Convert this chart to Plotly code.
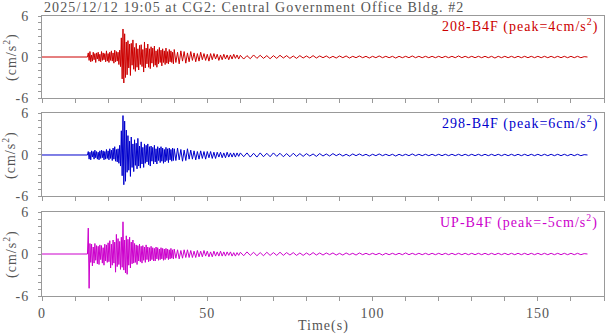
import numpy as np
import plotly.graph_objects as go

TITLE = "2025/12/12 19:05 at CG2: Central Government Office Bldg. #2"
CHANNELS = ["208-B4F", "298-B4F", "UP-B4F"]
PEAKS = [4, 6, -5]
COLORS = ["#cc0000", "#0000cc", "#cc00cc"]
X_TICKS = [0, 50, 100, 150]
Y_TICKS = [-6, 0, 6]

# segment A: every 0.25 s from 14 s (cm/s^2)
red_a = [0.6, -0.5, 0.8, -0.7, 0.3, -0.6, 0.7, -0.4, 0.5, -0.8, 0.6, -0.3,
         0.7, -0.6, 0.4, -0.7, 0.8, -0.5, 0.6, -0.4, 0.5, -0.7, 0.9, -0.6,
         0.5, -0.8, 0.7, -0.5, 0.9, -0.6, 0.6, -0.9, 1.0, -0.7, 0.8, -0.6,
         0.7, -1.1, 1.0, -1.4,
         2.8, -3.2, 4.1, -3.8, 3.4, -3.0, 2.2, -2.6,
         2.4, -1.6, 1.9, -2.7, 2.0, -1.2, 2.5, -1.8,
         1.4, -2.1, 2.0, -1.5, 1.2, -1.9, 1.7, -1.1,
         1.8, -1.4, 1.1, -2.2, 2.2, -1.6, 1.3, -1.0,
         1.9, -1.5, 1.2, -1.7, 1.5, -0.9, 1.3, -1.4,
         1.6, -1.2, 0.9, -1.5, 1.1, -1.0, 1.4, -0.8,
         1.0, -1.3, 1.2, -0.8, 0.9, -1.1, 1.3, -0.9,
         0.8, -1.0, 1.1, -0.7, 0.9, -0.8, 0.7, -1.0]
blue_a = [0.5, -0.6, 0.4, -0.7, 0.6, -0.3, 0.5, -0.6, 0.7, -0.4, 0.5, -0.6,
          0.4, -0.7, 0.6, -0.5, 0.7, -0.4, 0.6, -0.7, 0.5, -0.6, 0.8, -0.5,
          0.6, -0.7, 0.9, -0.5, 0.7, -0.8, 1.0, -0.6, 1.2, -0.9, 0.8, -1.0,
          0.9, -1.2, 1.4, -1.6,
          3.5, -3.0, 5.7, -4.3, 4.9, -3.8, 3.6, -2.5,
          2.8, -2.2, 2.0, -3.1, 2.6, -1.8, 1.6, -2.4,
          2.2, -1.5, 1.7, -2.0, 2.4, -1.6, 1.3, -1.9,
          1.9, -1.3, 1.1, -1.8, 1.6, -1.2, 1.4, -1.0,
          1.6, -1.4, 1.2, -1.6, 1.3, -0.9, 1.1, -1.3,
          1.4, -1.0, 0.9, -1.3, 1.2, -0.8, 1.0, -1.1,
          1.2, -0.9, 1.0, -1.2, 0.8, -1.0, 1.1, -0.8,
          0.9, -1.1, 1.0, -0.7, 0.8, -0.9, 1.0, -0.8]
mag_a = [3.7, -4.9, 1.5, -1.2, 1.4, -1.7, 1.0, -1.3, 1.5, -0.9, 1.2, -1.4,
         1.1, -1.5, 1.3, -0.8, 1.2, -1.3, 0.9, -1.6, 1.4, -1.0, 1.3, -1.2,
         1.6, -1.1, 1.9, -2.0, 1.4, -1.6, 2.0, -1.3, 1.7, -2.6, 2.8, -1.8,
         2.2, -1.5, 1.8, -2.2,
         2.4, -1.9, 4.6, -2.3, 2.0, -2.7, 2.6, -2.9,
         2.1, -1.6, 2.4, -2.0, 1.7, -1.4, 2.0, -1.3,
         1.5, -1.2, 1.3, -1.5, 1.2, -1.0, 1.4, -1.1,
         1.1, -1.3, 1.2, -0.9, 1.0, -1.2, 1.3, -0.8,
         1.0, -1.1, 0.9, -1.0, 1.1, -0.8, 0.9, -1.0,
         0.8, -1.0, 1.0, -0.7, 0.9, -0.9, 0.7, -0.8,
         0.9, -0.7, 0.8, -0.9, 0.7, -0.8, 0.8, -0.6,
         0.7, -0.8, 0.6, -0.7, 0.8, -0.6, 0.6, -0.7]

# segment B: every 0.5 s from 40 s
red_b = [1.1, -0.8, 0.7, -1.0, 0.9, -0.6, 0.8, -0.9, 0.6, -0.7,
         0.8, -0.5, 0.6, -0.7, 0.5, -0.6, 0.7, -0.4, 0.5, -0.5,
         0.4, -0.6, 0.5, -0.4, 0.5, -0.3, 0.4, -0.5, 0.3, -0.4,
         0.4, -0.3, 0.3, -0.4, 0.3, -0.3, 0.4, -0.2, 0.3, -0.3]
blue_b = [0.9, -0.8, 1.0, -0.7, 0.8, -0.9, 0.7, -0.8, 0.9, -0.6,
          0.7, -0.6, 0.6, -0.7, 0.5, -0.6, 0.6, -0.5, 0.5, -0.6,
          0.5, -0.4, 0.5, -0.5, 0.4, -0.5, 0.4, -0.3, 0.4, -0.4,
          0.3, -0.4, 0.4, -0.3, 0.3, -0.3, 0.3, -0.3, 0.3, -0.2]
mag_b = [0.7, -0.6, 0.6, -0.7, 0.5, -0.6, 0.6, -0.5, 0.6, -0.5,
         0.5, -0.5, 0.4, -0.5, 0.5, -0.4, 0.4, -0.4, 0.5, -0.3,
         0.4, -0.4, 0.3, -0.4, 0.4, -0.3, 0.3, -0.3, 0.4, -0.3,
         0.3, -0.3, 0.3, -0.2, 0.3, -0.3, 0.2, -0.3, 0.2, -0.2]

# segment C: every 1 s from 60 s
red_c = [0.25, -0.3, 0.2, -0.25, 0.3, -0.2, 0.25, -0.2, 0.2, -0.25, 0.2, -0.2, 0.25, -0.15, 0.2, -0.2, 0.15, -0.2, 0.2, -0.15,
         0.15, -0.15, 0.2, -0.15, 0.15, -0.1, 0.15, -0.15, 0.1, -0.15, 0.15, -0.1, 0.15, -0.15, 0.1, -0.1, 0.15, -0.1, 0.1, -0.15,
         0.1, -0.1, 0.15, -0.1, 0.1, -0.1, 0.1, -0.15, 0.1, -0.1, 0.1, -0.1, 0.15, -0.1, 0.1, -0.1, 0.1, -0.1, 0.1, -0.1,
         0.1, -0.1, 0.1, -0.1, 0.1, -0.1, 0.15, -0.1, 0.1, -0.1, 0.1, -0.1, 0.1, -0.1, 0.1, -0.1, 0.1, -0.15, 0.1, -0.1,
         0.1, -0.1, 0.1, -0.1, 0.1, -0.1, 0.1, -0.1, 0.1, -0.1, 0.1, -0.1, 0.1, -0.1, 0.1, -0.1, 0.1, -0.1, 0.1, -0.1,
         0.1, -0.1, 0.1, -0.1, 0.05, 0.0]
blue_c = [0.3, -0.25, 0.3, -0.3, 0.25, -0.3, 0.3, -0.25, 0.25, -0.25, 0.3, -0.2, 0.25, -0.25, 0.2, -0.25, 0.25, -0.2, 0.2, -0.2,
          0.2, -0.15, 0.15, -0.2, 0.2, -0.15, 0.15, -0.15, 0.2, -0.1, 0.15, -0.15, 0.1, -0.15, 0.15, -0.1, 0.15, -0.1, 0.1, -0.15,
          0.1, -0.1, 0.15, -0.1, 0.1, -0.1, 0.1, -0.15, 0.1, -0.1, 0.1, -0.1, 0.15, -0.1, 0.1, -0.1, 0.1, -0.1, 0.1, -0.1,
          0.1, -0.1, 0.1, -0.1, 0.1, -0.1, 0.1, -0.1, 0.1, -0.1, 0.1, -0.1, 0.1, -0.1, 0.1, -0.1, 0.1, -0.1, 0.1, -0.1,
          0.1, -0.1, 0.1, -0.1, 0.1, -0.1, 0.1, -0.1, 0.1, -0.1, 0.1, -0.1, 0.1, -0.1, 0.1, -0.1, 0.1, -0.1, 0.1, -0.1,
          0.1, -0.1, 0.1, -0.1, 0.05, 0.0]
mag_c = [0.25, -0.25, 0.3, -0.2, 0.25, -0.25, 0.2, -0.25, 0.25, -0.2, 0.2, -0.2, 0.25, -0.2, 0.2, -0.15, 0.2, -0.2, 0.15, -0.2,
         0.15, -0.15, 0.2, -0.15, 0.15, -0.15, 0.15, -0.1, 0.15, -0.15, 0.1, -0.15, 0.15, -0.1, 0.1, -0.15, 0.15, -0.1, 0.1, -0.1,
         0.1, -0.1, 0.1, -0.15, 0.1, -0.1, 0.1, -0.1, 0.1, -0.1, 0.15, -0.1, 0.1, -0.1, 0.1, -0.1, 0.1, -0.1, 0.1, -0.1,
         0.1, -0.1, 0.1, -0.1, 0.1, -0.1, 0.1, -0.1, 0.1, -0.1, 0.1, -0.1, 0.1, -0.1, 0.1, -0.1, 0.1, -0.1, 0.1, -0.1,
         0.1, -0.1, 0.1, -0.1, 0.1, -0.1, 0.1, -0.1, 0.1, -0.1, 0.1, -0.1, 0.1, -0.1, 0.1, -0.1, 0.1, -0.1, 0.1, -0.1,
         0.1, -0.1, 0.1, -0.1, 0.05, 0.0]

SEG_A = [red_a, blue_a, mag_a]
SEG_B = [red_b, blue_b, mag_b]
SEG_C = [red_c, blue_c, mag_c]

FONT = "Liberation Serif"
TXT = "#555555"
AX = "#999999"
LS = "letter-spacing:1px"


def sp(s, ls=LS):
    return "<span style='%s'>%s</span>" % (ls, s)


# y domains (paper) for the three panels
DOMAINS = [(0.7071, 1.0), (0.3554, 0.6518), (0.0, 0.30)]

fig = go.Figure()
for i in range(3):
    t = ([0.0, 13.75]
         + list(14.0 + 0.25 * np.arange(len(SEG_A[i])))
         + list(40.0 + 0.5 * np.arange(len(SEG_B[i])))
         + list(60.0 + 1.0 * np.arange(len(SEG_C[i]))))
    y = [0.0, 0.0] + SEG_A[i] + SEG_B[i] + SEG_C[i]
    ax = "" if i == 0 else str(i + 1)
    fig.add_trace(go.Scatter(x=t, y=y, mode="lines", line=dict(color=COLORS[i], width=1),
                             xaxis="x" + ax, yaxis="y" + ax, showlegend=False, hoverinfo="skip"))

layout = dict(width=605, height=334, margin=dict(l=42, r=1, t=16, b=38),
              paper_bgcolor="white", plot_bgcolor="white",
              font=dict(family=FONT, size=14, color=TXT), showlegend=False)

for i in range(3):
    ax = "" if i == 0 else str(i + 1)
    layout["xaxis" + ax] = dict(
        domain=[0, 1], range=[0, 170], anchor="y" + ax,
        tickmode="array", tickvals=X_TICKS, ticktext=[sp(str(v)) for v in X_TICKS],
        showticklabels=(i == 2),
        ticks="outside", ticklen=4, tickcolor=AX, showline=True, linecolor=AX, mirror=True,
        showgrid=False, zeroline=False,
        minor=dict(dtick=10, tick0=0, ticks="outside", ticklen=4, tickcolor=AX, showgrid=False),
        tickfont=dict(family=FONT, size=14, color=TXT),
    )
    layout["yaxis" + ax] = dict(
        domain=list(DOMAINS[i]), range=[-6, 6], anchor="x" + ax,
        tickmode="array", tickvals=Y_TICKS, ticktext=[sp(str(v)) for v in Y_TICKS],
        ticks="outside", ticklen=3, tickcolor=AX, showline=True, linecolor=AX, mirror=True,
        showgrid=False, zeroline=False, ticklabelstandoff=6,
        minor=dict(dtick=1, tick0=0, ticks="outside", ticklen=3, tickcolor=AX, showgrid=False),
        tickfont=dict(family=FONT, size=14, color=TXT),
    )

ann = []
ann.append(dict(text=sp(TITLE, "letter-spacing:1.1px"), xref="paper", yref="paper", x=0, y=1.0,
                xanchor="left", yanchor="bottom", yshift=-1, showarrow=False,
                font=dict(family=FONT, size=14, color=TXT)))
for i in range(3):
    lo, hi = DOMAINS[i]
    ann.append(dict(text=sp("%s (peak=%dcm/s<sup>2</sup>)" % (CHANNELS[i], PEAKS[i])),
                    xref="paper", yref="paper", x=0.9935, y=hi, xanchor="right", yanchor="top",
                    yshift=2, showarrow=False, font=dict(family=FONT, size=14, color=COLORS[i])))
    ann.append(dict(text=sp("(cm/s<sup>2</sup>)"), xref="paper", yref="paper", x=-0.057, y=(lo + hi) / 2,
                    xanchor="center", yanchor="middle", textangle=-90, showarrow=False,
                    font=dict(family=FONT, size=14, color=TXT)))
ann.append(dict(text=sp("Time(s)"), xref="paper", yref="paper", x=0.5, y=0, yshift=-30,
                xanchor="center", yanchor="middle", showarrow=False, font=dict(family=FONT, size=14, color=TXT)))
layout["annotations"] = ann

fig.update_layout(**layout)
fig.write_html("out.html")
